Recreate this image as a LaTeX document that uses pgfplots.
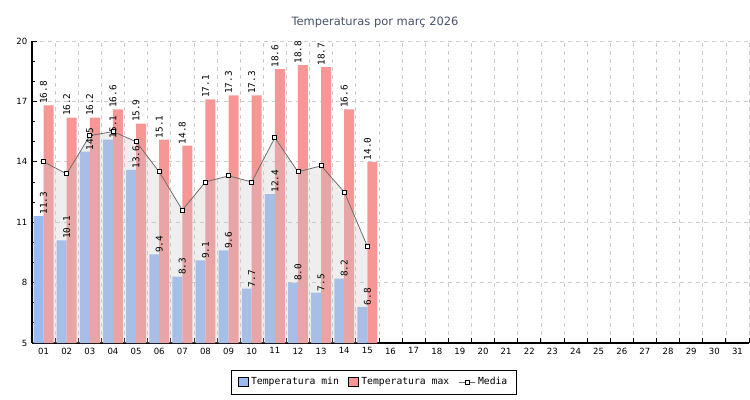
\documentclass[border=0pt]{standalone}
\usepackage{fontspec}
\setmainfont{DejaVu Sans}
\newfontfamily\monof{DejaVu Sans Mono}
\usepackage{pgfplots}
\pgfplotsset{compat=1.18}
\definecolor{cmin}{RGB}{153,187,244}
\definecolor{cmax}{RGB}{248,150,150}
\definecolor{gridc}{RGB}{205,205,205}
\definecolor{titlec}{RGB}{70,80,105}
\definecolor{areac}{RGB}{200,200,200}
\definecolor{linec}{RGB}{110,110,110}

\pgfplotstableread{
day tmin tmax media
1 11.3 16.8 14.0
2 10.1 16.2 13.4
3 14.5 16.2 15.3
4 15.1 16.6 15.5
5 13.6 15.9 15.0
6 9.4 15.1 13.5
7 8.3 14.8 11.6
8 9.1 17.1 13.0
9 9.6 17.3 13.3
10 7.7 17.3 13.0
11 12.4 18.6 15.2
12 8.0 18.8 13.5
13 7.5 18.7 13.8
14 8.2 16.6 12.5
15 6.8 14.0 9.8
}\datatable

\begin{document}
\begin{tikzpicture}
\useasboundingbox (0pt,0pt) rectangle (562.5pt,300pt);
\node[font=\fontsize{8.6}{10}\selectfont, text=titlec] at (281.25pt,283.5pt) {Temperaturas por març 2026};
\begin{axis}[
  at={(24pt,42.75pt)}, anchor=south west, scale only axis,
  width=537.75pt, height=226.5pt,
  xmin=0.5, xmax=31.5, ymin=5, ymax=20,
  /pgf/number format/assume math mode=true,
  axis lines=left, axis line style={-, black, line width=0.8pt},
  xtick={0.5,1.5,...,31.5}, x tick label as interval,
  xticklabels={01,02,03,04,05,06,07,08,09,10,11,12,13,14,15,16,17,18,19,20,21,22,23,24,25,26,27,28,29,30,31},
  ytick={5,8,11,14,17,20}, minor y tick num=2,
  grid=major, major grid style={dashed, gridc, line width=0.5pt},
  tick align=inside, major tick length=4pt, minor tick length=2.2pt,
  tick style={black, line width=0.6pt},
  ticklabel style={font=\fontsize{6.4}{7}\selectfont},
  legend style={at={(0.477,-0.129)}, anchor=center, legend columns=3, draw=black, line width=0.6pt,
    font=\monof\fontsize{7.3}{8}\selectfont, inner xsep=5pt, inner ysep=3.5pt,
    /tikz/every even column/.append style={column sep=5pt}},
  legend cell align=left,
  nodes near coords style={font=\monof\fontsize{7}{8}\selectfont, rotate=90, anchor=west, inner sep=1pt, text=black},
]
\addplot[ybar, bar width=0.43, bar shift=-0.215, fill=cmin, draw=none,
  legend image code/.code={\draw[fill=cmin, draw=black, line width=0.6pt] (0pt,-3.6pt) rectangle (7.2pt,3.6pt);}]
  table[x=day, y=tmin] {\datatable};
\addlegendentry{Temperatura min}
\addplot[ybar, bar width=0.43, bar shift=0.215, fill=cmax, draw=none,
  legend image code/.code={\draw[fill=cmax, draw=black, line width=0.6pt] (0pt,-3.6pt) rectangle (7.2pt,3.6pt);}]
  table[x=day, y=tmax] {\datatable};
\addlegendentry{Temperatura max}
\addplot[fill=areac, fill opacity=0.3, draw=none, forget plot]
  table[x=day, y=media] {\datatable} \closedcycle;
\addplot[ybar, bar width=0.43, bar shift=-0.215, fill=none, draw=none, forget plot,
  nodes near coords={\pgfmathprintnumber[fixed,fixed zerofill,precision=1,assume math mode=true]{\pgfplotspointmeta}}]
  table[x=day, y=tmin] {\datatable};
\addplot[ybar, bar width=0.43, bar shift=0.215, fill=none, draw=none, forget plot,
  nodes near coords={\pgfmathprintnumber[fixed,fixed zerofill,precision=1,assume math mode=true]{\pgfplotspointmeta}}]
  table[x=day, y=tmax] {\datatable};
\addplot[linec, line width=0.6pt, mark=square*, mark size=1.5pt,
  mark options={fill=white, draw=black, line width=0.6pt},
  legend image code/.code={\draw[linec, line width=0.6pt] (0pt,0pt) -- (12pt,0pt); \draw[fill=white, draw=black, line width=0.5pt] (4.5pt,-1.5pt) rectangle (7.5pt,1.5pt);}]
  table[x=day, y=media] {\datatable};
\addlegendentry{Media}
\end{axis}
\end{tikzpicture}
\end{document}
